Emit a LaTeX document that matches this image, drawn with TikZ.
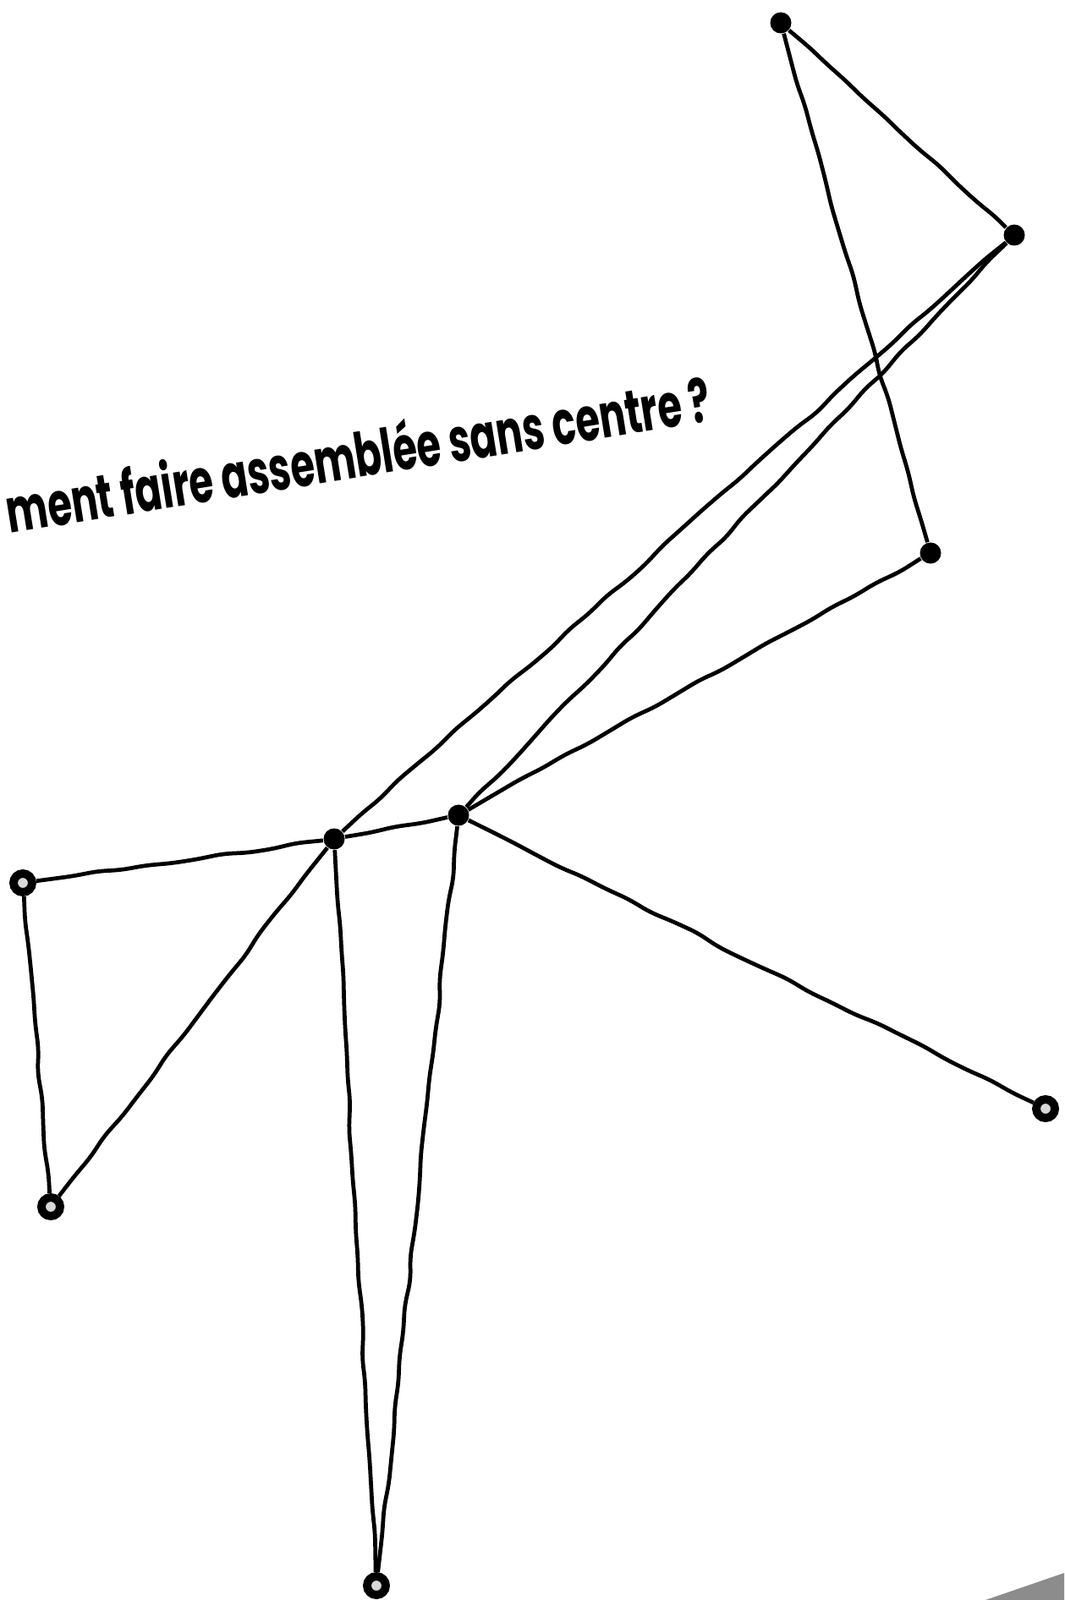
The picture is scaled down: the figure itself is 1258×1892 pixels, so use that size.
\documentclass[tikz,border=0pt]{standalone}
\usepackage{fontspec}
\newfontfamily\titlefont{Poppins}
\usetikzlibrary{decorations.pathmorphing}

\begin{document}
\begin{tikzpicture}[x=0.01cm,y=-0.01cm]
    \tikzstyle{wire}=[line width=1.35pt,decorate,decoration={random steps,segment
        length=0.3cm,amplitude=0.02cm},rounded corners=0.1cm]
    \tikzstyle{dot}=[circle,fill=black,inner sep=0,minimum size=0.25cm]
    \tikzstyle{ring}=[circle,draw=black,line width=2.8pt,fill=black!15,inner sep=0,minimum size=0.22cm]
    \useasboundingbox (0,0) rectangle (1258,1892);
    % Question
    \node[anchor=base west,rotate=9.1,inner sep=0] (question) at (11,631)
        {\resizebox{8.42cm}{0.6cm}{\titlefont\bfseries\fontsize{17}{17}\selectfont ment faire assemblée sans centre ?}};
    % Nodes
    \node[dot] (a) at (923,27) {};
    \node[dot] (b) at (1199,278) {};
    \node[dot] (c) at (1100,654) {};
    \node[dot] (d) at (395,992) {};
    \node[dot] (e) at (542,964) {};
    \node[ring] (f) at (27,1044) {};
    \node[ring] (g) at (60,1427) {};
    \node[ring] (h) at (445,1875) {};
    \node[ring] (i) at (1236,1311) {};
    % Lines
    \draw[wire] (a) -- (b); \draw[wire] (a) -- (c);
    \draw[wire] (b) -- (d); \draw[wire] (b) -- (e);
    \draw[wire] (c) -- (e); \draw[wire] (d) -- (e);
    \draw[wire] (d) -- (f); \draw[wire] (f) -- (g);
    \draw[wire] (g) -- (d); \draw[wire] (d) -- (h);
    \draw[wire] (e) -- (h); \draw[wire] (e) -- (i);
    % Smudge
    \fill[black!45] (1165,1892) -- (1258,1860) -- (1258,1892) -- cycle;
\end{tikzpicture}
\end{document}
